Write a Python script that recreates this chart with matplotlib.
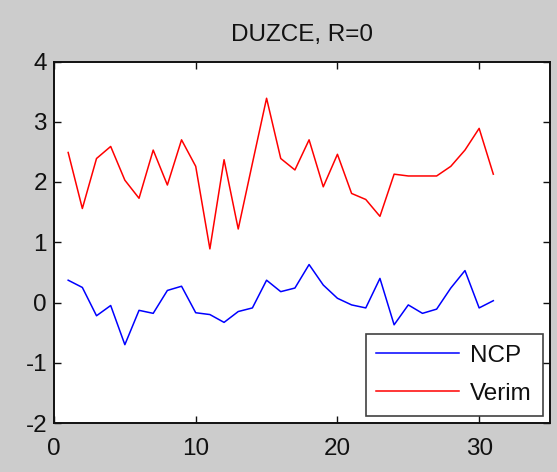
import matplotlib
matplotlib.use("Agg")
import matplotlib.pyplot as plt

plt.rcParams['font.family'] = ['Liberation Sans', 'DejaVu Sans']
plt.rcParams['axes.unicode_minus'] = False

x = list(range(1, 32))
ncp = [0.37, 0.25, -0.22, -0.05, -0.70, -0.13, -0.18, 0.20, 0.27, -0.17,
       -0.20, -0.33, -0.15, -0.09, 0.37, 0.18, 0.24, 0.63, 0.29, 0.07,
       -0.04, -0.09, 0.40, -0.37, -0.04, -0.18, -0.11, 0.24, 0.53, -0.09,
       0.03]
verim = [2.49, 1.56, 2.39, 2.59, 2.03, 1.73, 2.53, 1.95, 2.70, 2.26,
         0.89, 2.37, 1.22, 2.31, 3.39, 2.39, 2.20, 2.70, 1.92, 2.46,
         1.81, 1.71, 1.43, 2.13, 2.10, 2.10, 2.10, 2.26, 2.53, 2.89,
         2.13]
xticks = [0, 10, 20, 30]
yticks = [-2, -1, 0, 1, 2, 3, 4]
title = "DUZCE, R=0"

fs = 17.5
fig = plt.figure(figsize=(5.57, 4.72), dpi=100, facecolor="#cccccc")
ax = fig.add_axes([54 / 557, 1 - 423 / 472, 496 / 557, 361.5 / 472])
ax.set_facecolor("white")

ax.plot(x, ncp, color="#0000ff", linewidth=1.1, label="NCP")
ax.plot(x, verim, color="#ff0000", linewidth=1.1, label="Verim")

ax.set_xlim(0, 35)
ax.set_ylim(-2, 4)
ax.set_xticks(xticks)
ax.set_yticks(yticks)
ax.tick_params(direction="in", length=5, width=1, top=True, right=True,
               labelsize=fs, colors="#111111", pad=5)
ax.tick_params(axis="x", pad=11)
for s in ax.spines.values():
    s.set_linewidth(1.4)
    s.set_color("#111111")

ax.set_title(title, fontsize=fs, color="#111111", pad=15)

leg = ax.legend(loc="lower right", fontsize=fs, frameon=True, fancybox=False,
                edgecolor="#111111", handlelength=3.4, handletextpad=0.45,
                borderaxespad=0.3, labelspacing=0.65, borderpad=0.45)
leg.get_frame().set_linewidth(1.2)
for t in leg.get_texts():
    t.set_color("#111111")

fig.savefig("out.png", dpi=100, facecolor=fig.get_facecolor())
